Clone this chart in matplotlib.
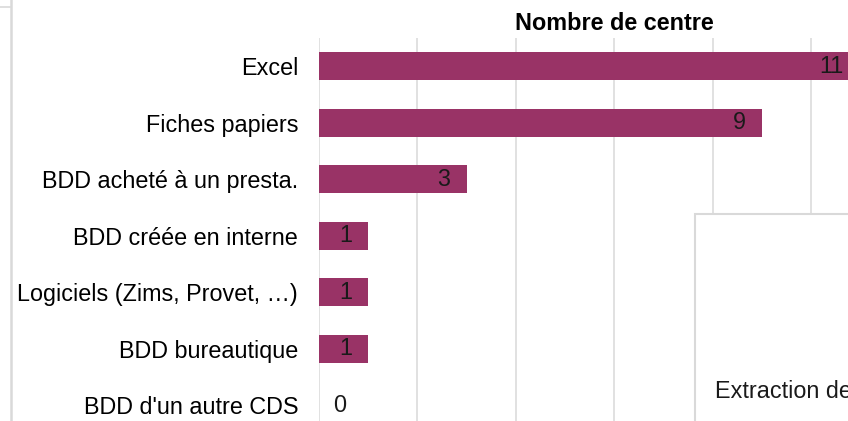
import matplotlib.pyplot as plt
from matplotlib.patches import Rectangle
from matplotlib.lines import Line2D

categories = ['Excel', 'Fiches papiers', 'BDD acheté à un presta.', 'BDD créée en interne',
              'Logiciels (Zims, Provet, …)', 'BDD bureautique', "BDD d'un autre CDS"]
values = [11, 9, 3, 1, 1, 1, 0]
title = 'Nombre de centre'
note = 'Extraction de'

plt.rcParams['font.family'] = ['Liberation Sans', 'DejaVu Sans']

W, H = 848, 421
fig = plt.figure(figsize=(W / 100, H / 100), dpi=100)

# axes run past the right and bottom edges, as in the cropped screenshot
left, top = 319, 38
unit = 49.2
step = 56.5
ax = fig.add_axes([left / W, (H - top - 7 * step) / H, 12 * unit / W, 7 * step / H])

fs = 16.8
bar_color = '#993366'
ypos = list(range(len(categories)))
ax.barh(ypos, values, height=0.5, color=bar_color, zorder=2)
ax.set_xlim(0, 12)
ax.set_ylim(6.5, -0.5)
ax.set_xticks(range(0, 13, 2))
ax.xaxis.grid(True, color='#d9d9d9', linewidth=1.1)
ax.set_axisbelow(True)
ax.tick_params(axis='x', bottom=False, labelbottom=False)
ax.tick_params(axis='y', left=False, length=0, pad=15, labelsize=fs)
ax.set_yticks(ypos)
ax.set_yticklabels(categories)
for s in ax.spines.values():
    s.set_visible(False)
ax.set_title(title, fontsize=fs, fontweight='bold', pad=6)

for y, v in zip(ypos, values):
    if v > 0:
        ax.text(v - 0.33, y, str(v), ha='right', va='center', fontsize=fs, color='#1a1a1a', zorder=3)
    else:
        ax.text(0.43, y, str(v), ha='center', va='center', fontsize=fs, color='#1a1a1a', zorder=3)

# overlapping white box from the neighbouring object
box = Rectangle((695 / W, -0.1), 0.5, (H - 214) / H + 0.1, transform=fig.transFigure,
                facecolor='white', edgecolor='#d9d9d9', linewidth=1.5, zorder=10)
fig.add_artist(box)
fig.text(715 / W, 1 - 392 / H, note, ha='left', va='center', fontsize=fs, color='#1a1a1a', zorder=11)

# frame edges at the left of the crop
fig.add_artist(Line2D([11 / W, 11 / W], [0, 1], color='#d9d9d9', linewidth=1.8))
fig.add_artist(Line2D([0, 10 / W], [1 - 7 / H, 1 - 7 / H], color='#d9d9d9', linewidth=1.2))

fig.savefig('out.png', dpi=100)
